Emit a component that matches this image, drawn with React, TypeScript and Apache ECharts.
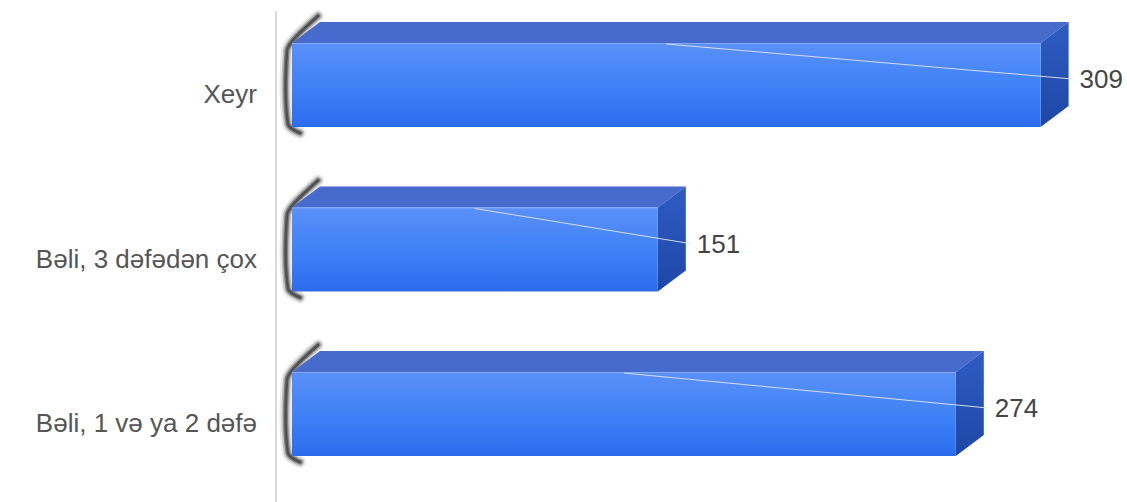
import React, { useEffect, useRef } from "react";
import * as echarts from "echarts";

const categories = ["Bəli, 1 və ya 2 dəfə", "Bəli, 3 dəfədən çox", "Xeyr"];
const values = [274, 151, 309];

export default function App() {
  const ref = useRef<HTMLDivElement>(null);
  useEffect(() => {
    if (!ref.current) return;
    const chart = echarts.init(ref.current, null, { renderer: "svg" });
    const font = "'Liberation Sans', Arial, sans-serif";
    chart.setOption({
      animation: false,
      backgroundColor: "#ffffff",
      grid: {
        left: 292,
        top: 12,
        width: 823.7,
        height: 493.5,
        containLabel: false,
        outerBoundsMode: "none",
      },
      xAxis: { type: "value", min: 0, max: 340, show: false },
      yAxis: {
        type: "category",
        data: categories,
        offset: 16,
        axisLine: { show: true, onZero: false, lineStyle: { color: "#d9d9d9", width: 2 } },
        axisTick: { show: false },
        splitLine: { show: false },
        axisLabel: {
          margin: 19,
          fontSize: 26,
          color: "#555555",
          fontFamily: font,
          padding: [10, 0, 0, 0],
        },
      },
      series: [
        {
          type: "custom",
          data: values.map((v, i) => [v, i]),
          encode: { x: 0, y: 1 },
          clip: false,
          renderItem: (params: any, api: any) => {
            const idx = api.value(1);
            const val = api.value(0);
            const p1 = api.coord([val, idx]);
            const p0 = api.coord([0, idx]);
            const x0 = p0[0];
            const x1 = p1[0];
            const cy = p1[1];
            const bandTop = cy - 82.25;
            const top = bandTop + 31;
            const h = 84;
            const dx = 28;
            const dy = 21;
            const labelY = top + 36;
            const shadowPts = [
              [x0 + 8, top + h + 6],
              [x0 - 4, top + h - 3],
              [x0 - 5, top + 8],
              [x0 + 2, top - 4],
              [x0 + 26, top - dy - 6],
            ];
            const shadowLayers = [
              { w: 12, c: "rgba(40,40,40,0.10)" },
              { w: 8, c: "rgba(40,40,40,0.22)" },
              { w: 5, c: "rgba(50,50,50,0.45)" },
              { w: 2.5, c: "rgba(60,60,60,0.7)" },
            ].map((l) => ({
              type: "polyline",
              shape: { points: shadowPts, smooth: 0.3 },
              style: { stroke: l.c, lineWidth: l.w, fill: null, lineCap: "round" },
            }));
            return {
              type: "group",
              children: [
                ...shadowLayers,
                {
                  type: "polygon",
                  shape: {
                    points: [
                      [x0, top],
                      [x0 + dx, top - dy],
                      [x1 + dx, top - dy],
                      [x1, top],
                    ],
                  },
                  style: { fill: "#466bcc" },
                },
                {
                  type: "polygon",
                  shape: {
                    points: [
                      [x1, top],
                      [x1 + dx, top - dy],
                      [x1 + dx, top + h - dy],
                      [x1, top + h],
                    ],
                  },
                  style: {
                    fill: new echarts.graphic.LinearGradient(0, 0, 0, 1, [
                      { offset: 0, color: "#2f5cc2" },
                      { offset: 1, color: "#1d47a6" },
                    ]),
                  },
                },
                {
                  type: "rect",
                  shape: { x: x0, y: top, width: x1 - x0, height: h },
                  style: {
                    fill: new echarts.graphic.LinearGradient(0, 0, 0, 1, [
                      { offset: 0, color: "#5b90f8" },
                      { offset: 0.5, color: "#3f82f7" },
                      { offset: 1, color: "#2b6cec" },
                    ]),
                  },
                },
                {
                  type: "line",
                  shape: { x1: x0, y1: top + 0.5, x2: x1, y2: top + 0.5 },
                  style: { stroke: "rgba(140,180,255,0.8)", lineWidth: 1 },
                },
                {
                  type: "polyline",
                  shape: {
                    points: [
                      [(x0 + x1) / 2, top + 1],
                      [x1 + dx + 4, labelY],
                    ],
                  },
                  style: { stroke: "rgba(220,225,230,0.95)", lineWidth: 1, fill: null },
                },
                {
                  type: "text",
                  style: {
                    x: x1 + dx + 11,
                    y: labelY,
                    text: String(val),
                    fontSize: 26,
                    fontFamily: font,
                    fill: "#444444",
                    verticalAlign: "middle",
                    align: "left",
                  },
                },
              ],
            };
          },
        },
      ],
    });
    return () => chart.dispose();
  }, []);
  return (
    <div
      ref={ref}
      style={{ position: "fixed", left: 0, top: 0, width: 1127, height: 502 }}
    />
  );
}
